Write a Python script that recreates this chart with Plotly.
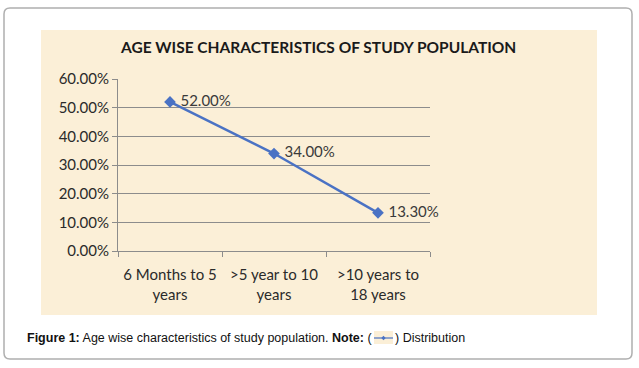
import plotly.graph_objects as go

categories = ["6 Months to 5<br>years", ">5 year to 10<br>years", ">10 years to<br>18 years"]
values = [52.0, 34.0, 13.3]
value_labels = ["52.00%", "34.00%", "13.30%"]
tick_vals = [0, 10, 20, 30, 40, 50, 60]
tick_text = ["0.00%", "10.00%", "20.00%", "30.00%", "40.00%", "50.00%", "60.00%"]

W, H = 639, 368
L, R, T, B = 118, 430, 79, 251
FONT = "Lato, Open Sans, sans-serif"

fig = go.Figure()
fig.add_trace(go.Scatter(
    x=[0, 1, 2], y=values, mode="lines+markers+text",
    line=dict(color="#4A72C4", width=2.5),
    marker=dict(symbol="diamond", size=9, color="#4A72C4"),
    text=[" " + t for t in value_labels], textposition="middle right",
    textfont=dict(family=FONT, size=15, color="#3a3a3a"),
    cliponaxis=False, showlegend=False,
))

def px(x):
    return (x - L) / (R - L)

def py(y):
    return (B - y) / (B - T)

shapes = [
    # outer rounded border
    dict(type="path", xref="paper", yref="paper",
         path=f"M {px(10)},{py(8)} L {px(626)},{py(8)} Q {px(632)},{py(8)} {px(632)},{py(14)} "
              f"L {px(632)},{py(353)} Q {px(632)},{py(359)} {px(626)},{py(359)} "
              f"L {px(10)},{py(359)} Q {px(4)},{py(359)} {px(4)},{py(353)} "
              f"L {px(4)},{py(14)} Q {px(4)},{py(8)} {px(10)},{py(8)} Z",
         line=dict(color="#AFAFAF", width=1.5), fillcolor="white", layer="below"),
    # beige chart area
    dict(type="rect", xref="paper", yref="paper", x0=px(41), x1=px(597), y0=py(315), y1=py(30),
         line=dict(width=0), fillcolor="#FBEFD7", layer="below"),
]
# legend sample in caption
shapes.append(dict(type="rect", xref="paper", yref="paper", x0=px(374), x1=px(393), y0=py(344), y1=py(331),
                   line=dict(width=0), fillcolor="#FBEFD7"))
shapes.append(dict(type="line", xref="paper", yref="paper", x0=px(374), x1=px(393), y0=py(338), y1=py(338),
                   line=dict(color="#4A72C4", width=1.2)))
shapes.append(dict(type="path", xref="paper", yref="paper",
                   path=f"M {px(383.5)},{py(335.8)} L {px(385.7)},{py(338)} L {px(383.5)},{py(340.2)} L {px(381.3)},{py(338)} Z",
                   fillcolor="#4A72C4", line=dict(width=0)))

annotations = [
    dict(text="<b>AGE WISE CHARACTERISTICS OF STUDY POPULATION</b>", xref="paper", yref="paper",
         x=px(318), y=py(47), xanchor="center", yanchor="middle", showarrow=False,
         font=dict(family=FONT, size=15.5, color="#1a1a1a")),
    dict(text="<b>Figure 1:</b> Age wise characteristics of study population. <b>Note:</b> (", xref="paper", yref="paper",
         x=px(25), y=py(338), xanchor="left", yanchor="middle", showarrow=False,
         font=dict(family="Liberation Sans Narrow, Arial Narrow, Liberation Sans, sans-serif", size=12.5, color="#111111")),
    dict(text=") Distribution", xref="paper", yref="paper",
         x=px(393), y=py(338), xanchor="left", yanchor="middle", showarrow=False,
         font=dict(family="Liberation Sans Narrow, Arial Narrow, Liberation Sans, sans-serif", size=12.5, color="#111111")),
]

fig.update_layout(
    width=W, height=H,
    margin=dict(l=L, r=W - R, t=T, b=H - B),
    paper_bgcolor="white", plot_bgcolor="rgba(0,0,0,0)",
    shapes=shapes, annotations=annotations,
    xaxis=dict(range=[-0.5, 2.5], tickvals=[0, 1, 2], ticktext=categories,
               showgrid=False, zeroline=False, showline=False, ticks="",
               ticklabelstandoff=13,
               tickfont=dict(family=FONT, size=15, color="#2a2a2a"),
               fixedrange=True),
    yaxis=dict(range=[0, 60], tickvals=tick_vals, ticktext=tick_text,
               showgrid=True, gridcolor="#8C8C8C", gridwidth=1, zeroline=False,
               showline=True, linecolor="#8C8C8C", ticks="outside", ticklen=5, tickcolor="#8C8C8C",
               tickfont=dict(family=FONT, size=15, color="#2a2a2a"),
               fixedrange=True),
)
# x axis line and category boundary ticks via an overlay axis
fig.update_layout(xaxis2=dict(overlaying="x", range=[-0.5, 2.5], tickvals=[-0.5, 0.5, 1.5, 2.5],
                              ticktext=["", "", "", ""], side="bottom", showgrid=False, zeroline=False,
                              showline=True, linecolor="#8C8C8C", ticks="outside", ticklen=5,
                              tickcolor="#8C8C8C", fixedrange=True, anchor="y"))
fig.add_trace(go.Scatter(x=[None], y=[None], xaxis="x2", showlegend=False, hoverinfo="skip"))

fig.write_html("out.html", config={"displayModeBar": False},
               post_script="document.body.style.margin='0';document.body.style.overflow='hidden';")
